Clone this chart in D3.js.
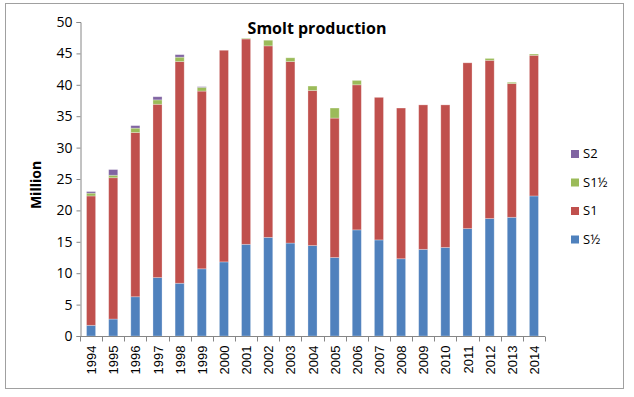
<!DOCTYPE html>
<html lang="en">
<head>
<meta charset="utf-8">
<title>Smolt production</title>
<script src="https://cdn.jsdelivr.net/npm/d3@7"></script>
<style>
  * { margin: 0; padding: 0; }
  body { background: #fff; }
  svg { display: block; font-family: "Liberation Sans", Arial, sans-serif; }
</style>
</head>
<body>
<div id="chart"></div>
<script>
  // data (million smolts)
  const years = ["1994","1995","1996","1997","1998","1999","2000","2001","2002","2003","2004",
                 "2005","2006","2007","2008","2009","2010","2011","2012","2013","2014"];
  const sHalf    = [1.7, 2.7, 6.25, 9.3, 8.4, 10.7, 11.8, 14.6, 15.7, 14.8, 14.4, 12.5, 16.9, 15.3, 12.3, 13.8, 14.1, 17.1, 18.7, 18.9, 22.3];
  const s1       = [20.6, 22.5, 26.15, 27.6, 35.3, 28.3, 33.7, 32.7, 30.5, 28.9, 24.7, 22.2, 23.1, 22.7, 24.0, 23.0, 22.7, 26.4, 25.2, 21.3, 22.4];
  const s1Half   = [0.45, 0.4, 0.7, 0.7, 0.7, 0.6, 0, 0.1, 0.9, 0.6, 0.7, 1.6, 0.7, 0, 0, 0, 0, 0, 0.3, 0.2, 0.2];
  const s2       = [0.25, 0.9, 0.4, 0.5, 0.4, 0.1, 0, 0, 0, 0, 0, 0, 0, 0, 0, 0, 0, 0, 0, 0, 0];
  const seriesNames = ["S½", "S1", "S1½", "S2"];
  const yTicks = [0, 5, 10, 15, 20, 25, 30, 35, 40, 45, 50];

  const W = 634, H = 397;
  const colors = { "S½": "#4f81bd", "S1": "#c0504d", "S1½": "#9bbb59", "S2": "#8064a2" };

  const rows = years.map((y, i) => ({ year: y, "S½": sHalf[i], "S1": s1[i], "S1½": s1Half[i], "S2": s2[i] }));
  const stacked = d3.stack().keys(seriesNames)(rows);

  const svg = d3.select("#chart").append("svg")
      .attr("width", W).attr("height", H);

  // chart frame
  svg.append("rect")
      .attr("x", 5.5).attr("y", 3.5)
      .attr("width", 618).attr("height", 385)
      .attr("fill", "#fff")
      .attr("stroke", "#a0a0a0")
      .attr("stroke-width", 1);

  const x = d3.scaleBand().domain(years).range([80, 545]).paddingInner(0.59).paddingOuter(0.295);
  const y = d3.scaleLinear().domain([0, 50]).range([336, 22]);

  // bars
  svg.append("g").selectAll("g")
    .data(stacked)
    .join("g")
      .attr("fill", d => colors[d.key])
    .selectAll("rect")
    .data(d => d.filter(p => p[1] - p[0] > 0))
    .join("rect")
      .attr("x", d => x(d.data.year))
      .attr("y", d => y(d[1]))
      .attr("width", x.bandwidth())
      .attr("height", d => y(d[0]) - y(d[1]))
      .attr("stroke", "#fff")
      .attr("stroke-opacity", 0.35)
      .attr("stroke-width", 0.8);

  // y axis
  const yAxis = svg.append("g")
      .attr("transform", "translate(80.5,0)")
      .call(d3.axisLeft(y).tickValues(yTicks).tickSize(4).tickPadding(4));
  yAxis.select(".domain").attr("stroke", "#868686");
  yAxis.selectAll(".tick line").attr("stroke", "#868686");
  yAxis.selectAll(".tick text")
      .attr("font-family", "'Open Sans', 'Liberation Sans', sans-serif")
      .attr("font-size", 14).attr("fill", "#000");

  // x axis with ticks on category boundaries
  const xAxisG = svg.append("g").attr("transform", "translate(0,336.5)");
  xAxisG.append("line")
      .attr("x1", 80).attr("x2", 545)
      .attr("stroke", "#868686");
  const step = x.step();
  xAxisG.selectAll("line.tk")
    .data(d3.range(years.length + 1))
    .join("line")
      .attr("class", "tk")
      .attr("x1", i => Math.round(80 + i * step) + 0.5)
      .attr("x2", i => Math.round(80 + i * step) + 0.5)
      .attr("y1", 0).attr("y2", 5)
      .attr("stroke", "#868686");
  xAxisG.selectAll("text")
    .data(years)
    .join("text")
      .attr("transform", d => `translate(${x(d) + x.bandwidth() / 2 + 5},9) rotate(-90)`)
      .attr("text-anchor", "end")
      .attr("font-size", 13)
      .attr("fill", "#000")
      .text(d => d);

  // title
  svg.append("text")
      .attr("x", 317).attr("y", 34)
      .attr("text-anchor", "middle")
      .attr("font-family", "'Open Sans', 'Liberation Sans', sans-serif")
      .attr("font-weight", "bold")
      .attr("font-size", 16)
      .text("Smolt production");

  // y axis title
  svg.append("text")
      .attr("transform", "translate(41,185) rotate(-90)")
      .attr("text-anchor", "middle")
      .attr("font-family", "'Open Sans', 'Liberation Sans', sans-serif")
      .attr("font-weight", "bold")
      .attr("font-size", 14)
      .text("Million");

  // legend (top to bottom: S2, S1½, S1, S½)
  const legend = svg.append("g");
  const legendItems = seriesNames.slice().reverse();
  const lg = legend.selectAll("g")
    .data(legendItems)
    .join("g")
      .attr("transform", (d, i) => `translate(571,${150 + i * 28.5})`);
  lg.append("rect")
      .attr("width", 8).attr("height", 8)
      .attr("fill", d => colors[d]);
  lg.append("text")
      .attr("x", 12).attr("y", 8)
      .attr("font-family", "'Open Sans', 'Liberation Sans', sans-serif")
      .attr("font-size", 13)
      .text(d => d);
</script>
</body>
</html>
